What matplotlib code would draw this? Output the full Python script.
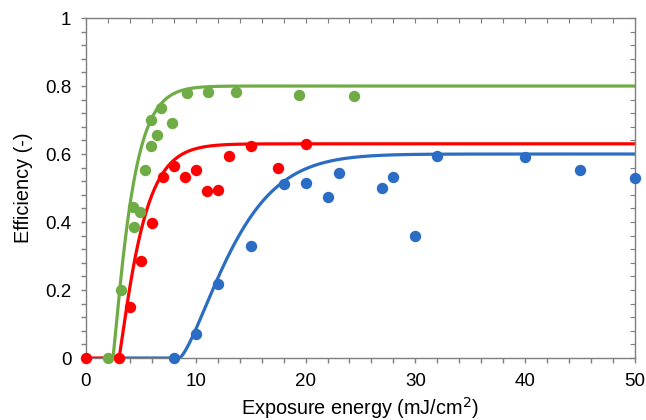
import numpy as np
import matplotlib
matplotlib.use('Agg')
import matplotlib.pyplot as plt
from matplotlib.ticker import MultipleLocator

plt.rcParams['font.family'] = ['Liberation Sans', 'DejaVu Sans']

# measured points
green_x = [2, 3.2, 4.3, 4.4, 4.9, 5.4, 5.9, 5.9, 6.5, 6.8, 7.8, 9.2, 11.1, 13.7, 19.4, 24.4]
green_y = [0, 0.20, 0.445, 0.386, 0.43, 0.553, 0.624, 0.70, 0.656, 0.736, 0.692, 0.78, 0.781, 0.781, 0.774, 0.77]

red_x = [0, 3, 4, 5, 6, 7, 8, 9, 10, 11, 12, 13, 15, 17.5, 20]
red_y = [0, 0, 0.151, 0.285, 0.396, 0.533, 0.565, 0.533, 0.553, 0.492, 0.494, 0.595, 0.624, 0.56, 0.629]

blue_x = [8, 10, 12, 15, 18, 20, 22, 23, 27, 28, 30, 32, 40, 45, 50]
blue_y = [0, 0.071, 0.218, 0.329, 0.512, 0.516, 0.474, 0.543, 0.50, 0.531, 0.36, 0.595, 0.59, 0.552, 0.53]

# fitted curves: plateau * (1 - exp(-((x - x0) / s) ** n)), zero below x0
green_fit = dict(plateau=0.80, x0=2.45, s=1.83, n=1.15, start=2)
red_fit = dict(plateau=0.63, x0=3.0, s=2.2, n=1.15, start=0)
blue_fit = dict(plateau=0.60, x0=8.5, s=5.78, n=1.4, start=2)

colors = {'blue': '#2b6cc4', 'red': '#ff0000', 'green': '#6fac46'}


def fit_curve(p):
    x = np.linspace(p['start'], 50, 600)
    d = np.clip(x - p['x0'], 0, None)
    return x, p['plateau'] * (1 - np.exp(-(d / p['s']) ** p['n']))


fig = plt.figure(figsize=(6.46, 4.20), dpi=100)
ax = fig.add_axes([0.1331, 0.1476, 0.8498, 0.8095])

series = [('blue', blue_x, blue_y, blue_fit),
          ('red', red_x, red_y, red_fit),
          ('green', green_x, green_y, green_fit)]
for name, xs, ys, p in series:
    cx, cy = fit_curve(p)
    ax.plot(cx, cy, color=colors[name], lw=2.3, zorder=2, solid_capstyle='butt')
for name, xs, ys, p in series:
    ax.plot(xs, ys, 'o', color=colors[name], ms=8.2, mec='none', zorder=3, clip_on=False)

ax.set_xlim(0, 50)
ax.set_ylim(0, 1)
ax.xaxis.set_major_locator(MultipleLocator(10))
ax.xaxis.set_minor_locator(MultipleLocator(2))
ax.yaxis.set_major_locator(MultipleLocator(0.2))
ax.yaxis.set_minor_locator(MultipleLocator(0.04))
ax.yaxis.set_major_formatter(plt.FuncFormatter(lambda v, _: f'{v:g}'))

spine_c = '#7f7f7f'
for s in ax.spines.values():
    s.set_color(spine_c)
    s.set_linewidth(1.0)
ax.tick_params(which='both', direction='out', color=spine_c, labelsize=13.5, pad=7)
ax.tick_params(which='major', length=3.6, width=1)
ax.tick_params(which='minor', length=3.6, width=1)

top = ax.secondary_xaxis('top')
top.xaxis.set_major_locator(MultipleLocator(2))
top.tick_params(direction='in', length=3.5, color=spine_c, labeltop=False)
top.spines['top'].set_visible(False)
right = ax.secondary_yaxis('right')
right.yaxis.set_major_locator(MultipleLocator(0.04))
right.tick_params(direction='in', length=3.5, color=spine_c, labelright=False)
right.spines['right'].set_visible(False)

ax.set_xlabel('Exposure energy (mJ/cm$^2$)', fontsize=14.3, labelpad=4)
ax.set_ylabel('Efficiency (-)', fontsize=14.3, labelpad=9)

fig.savefig('out.png', dpi=100)
